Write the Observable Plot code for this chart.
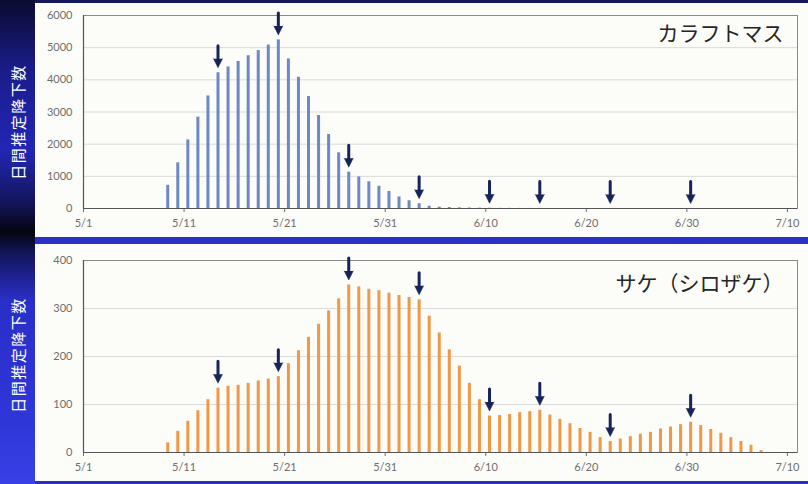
<!DOCTYPE html>
<html>
<head>
<meta charset="utf-8">
<script src="https://cdn.jsdelivr.net/npm/d3@7"></script>
<script src="https://cdn.jsdelivr.net/npm/@observablehq/plot@0.6"></script>
<style>
  html, body { margin: 0; padding: 0; background: #ffffff; }
  #root { position: relative; width: 808px; height: 484px; overflow: hidden; background: #2b31c6; }
  #topstrip { position: absolute; left: 0; top: 0; width: 808px; height: 3px; background: #15185a; }
  #band { position: absolute; left: 0; top: 0; width: 35px; height: 484px;
    background: linear-gradient(to bottom, #0b0b30 0px, #1a1c8a 70px, #2226b4 150px, #141660 200px, #050510 232px, #111450 250px, #2a2ec8 300px, #2f36d8 420px, #3840e6 484px); }
  .ylab { position: absolute; left: 17px; color: #ffffff; font-family: "Noto Sans CJK JP", sans-serif; font-size: 15px;
    letter-spacing: 1.5px; white-space: nowrap; transform: translate(-50%, -50%) rotate(-90deg); }
  .panel { position: absolute; left: 35px; width: 773px; background: #fcfcf8; }
  .panel svg { display: block; }
</style>
</head>
<body>
<div id="root">
  <div id="topstrip"></div>
  <div id="band"></div>
  <div class="ylab" style="top:122px">日間推定降下数</div>
  <div class="ylab" style="top:355px">日間推定降下数</div>
  <div class="panel" id="p1" style="top:3px;height:234px"></div>
  <div class="panel" id="p2" style="top:244px;height:237px"></div>
</div>
<script>
// ---- data ----
const days = ["5/9","5/10","5/11","5/12","5/13","5/14","5/15","5/16","5/17","5/18",
  "5/19","5/20","5/21","5/22","5/23","5/24","5/25","5/26","5/27","5/28",
  "5/29","5/30","5/31","6/1","6/2","6/3","6/4","6/5","6/6","6/7",
  "6/8","6/9","6/10","6/11","6/12","6/13","6/14","6/15","6/16","6/17",
  "6/18","6/19","6/20","6/21","6/22","6/23","6/24","6/25","6/26","6/27",
  "6/28","6/29","6/30","7/1","7/2","7/3","7/4","7/5","7/6","7/7"];

const pinkSalmon = [720,1420,2130,2840,3500,4220,4400,4570,4750,4910,
  5080,5240,4650,4080,3480,2890,2300,1730,1130,980,
  830,690,530,360,240,150,70,40,30,20,
  15,10,8,5,4,3,2,2,1,0,
  0,0,0,0,0,0,0,0,0,0,
  0,0,0,0,0,0,0,0,0,0];

const chumSalmon = [20,44,65,87,110,134,138,140,144,149,
  153,158,185,212,240,267,295,320,349,345,
  340,337,332,327,323,318,284,249,214,180,
  144,110,76,77,79,83,85,88,78,69,
  60,50,42,31,23,28,33,38,42,49,
  53,58,63,56,48,40,31,23,15,4];

const arrowDays = ["5/14","5/20","5/27","6/3","6/10","6/15","6/22","6/30"];

const xTickLabels = ["5/1","5/11","5/21","5/31","6/10","6/20","6/30","7/10"];
const xDomainLabels = ["5/1","7/11"];
const pinkTicks = [0,1000,2000,3000,4000,5000,6000];
const chumTicks = [0,100,200,300,400];

const titles = ["カラフトマス", "サケ（シロザケ）"];

// ---- helpers ----
const YEAR = 2020;
function parseDay(s, hours = 0) {
  const [m, d] = s.split("/").map(Number);
  return new Date(Date.UTC(YEAR, m - 1, d, hours));
}
const BAR_HOURS = 9;
const fmt = d => `${d.getUTCMonth() + 1}/${d.getUTCDate()}`;
const navy = "#17245a";

function makePanel(values, ticks, color, title, opts) {
  const data = days.map((s, i) => ({date: parseDay(s, BAR_HOURS), value: values[i]}));
  const byDay = new Map(days.map((s, i) => [s, values[i]]));
  const arrows = arrowDays.map(s => ({date: parseDay(s, BAR_HOURS), value: byDay.get(s)}));
  const yMax = ticks[ticks.length - 1];
  const grid = ticks.slice(1, -1);
  return Plot.plot({
    width: 773,
    height: opts.height,
    marginLeft: 48,
    marginRight: 11,
    marginTop: opts.marginTop,
    marginBottom: opts.height - opts.marginTop - opts.plotH,
    style: {background: "transparent", fontFamily: "Lato, 'Liberation Sans', sans-serif", fontSize: "11px", color: "#6e6e6e"},
    x: {type: "utc", domain: xDomainLabels.map(s => parseDay(s)), ticks: xTickLabels.map(s => parseDay(s)),
        tickFormat: fmt, tickSize: 4, tickPadding: 7, label: null},
    y: {domain: [0, yMax], ticks: ticks, tickFormat: d => String(d), tickSize: 0, tickPadding: 11, label: null},
    marks: [
      Plot.ruleY(grid, {stroke: "#dadada", strokeWidth: 1}),
      Plot.frame({stroke: "#8a8a8a", strokeWidth: 1}),
      Plot.ruleX(data, {x: "date", y1: 0, y2: "value", stroke: color, strokeWidth: 3}),
      Plot.ruleY([0], {stroke: "#555555", strokeWidth: 1.2}),
      Plot.ruleX([parseDay(xDomainLabels[0])], {stroke: "#555555", strokeWidth: 1.2}),
      // arrow shafts
      Plot.vector(arrows, {x: "date", y: "value", length: 16, rotate: 180, anchor: "end", r: 0.001,
        shape: "arrow", stroke: navy, strokeWidth: 3, dy: -11}),
      // arrow heads
      Plot.vector(arrows, {x: "date", y: "value", length: 9, rotate: 180, anchor: "end", r: 4.5,
        shape: "spike", fill: navy, stroke: navy, strokeWidth: 0.5, dy: -5}),
      Plot.text([title], {frameAnchor: "top-right", dx: -14, dy: opts.titleDy, text: d => d,
        fontSize: 21, fill: "#262626", fontFamily: "'Noto Sans CJK JP', sans-serif", textAnchor: "end", lineAnchor: "middle"})
    ]
  });
}

document.getElementById("p1").appendChild(
  makePanel(pinkSalmon, pinkTicks, "#6d88c4", titles[0], {height: 234, marginTop: 12, plotH: 193, titleDy: 19}));
document.getElementById("p2").appendChild(
  makePanel(chumSalmon, chumTicks, "#ee9848", titles[1], {height: 237, marginTop: 16, plotH: 192, titleDy: 24}));
</script>
</body>
</html>
